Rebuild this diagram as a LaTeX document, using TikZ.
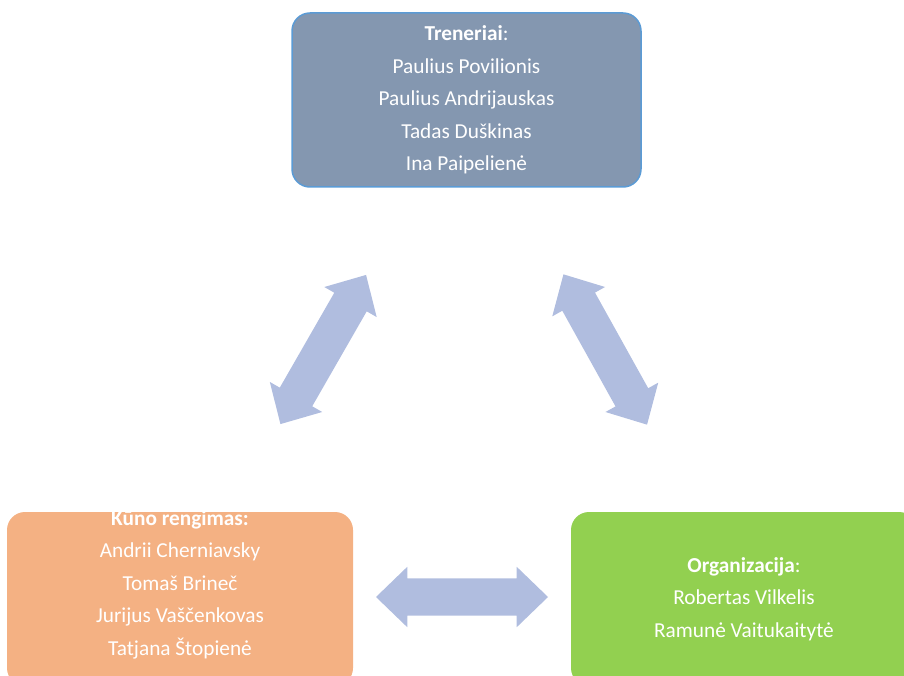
\documentclass[tikz,border=0pt]{standalone}
\usepackage{fontspec}
\setmainfont{Carlito}
\usetikzlibrary{shapes.arrows}
\definecolor{trenerfill}{HTML}{8497B0}
\definecolor{trenerline}{HTML}{5B9BD5}
\definecolor{kunofill}{HTML}{F4B183}
\definecolor{orgfill}{HTML}{92D050}
\definecolor{linkfill}{HTML}{B0BDDF}
\tikzset{
  box/.style={rectangle, rounded corners=18pt, minimum width=346pt, minimum height=174pt,
    text=white, align=center, font=\fontsize{21.3}{32.5}\selectfont},
  names/.style={text=white, align=center, font=\fontsize{21.3}{32.5}\selectfont},
  link/.style={double arrow, fill=linkfill, draw=none, sloped, inner xsep=0pt, inner ysep=18.5pt,
    double arrow head extend=11.5pt, double arrow tip angle=88, minimum height=172pt},
}
\begin{document}
\begin{tikzpicture}[x=1pt,y=-1pt]
\useasboundingbox (0,0) rectangle (904,676);
% three groups
\node[box, fill=trenerfill, draw=trenerline, line width=1.5pt, minimum width=349pt] (trener) at (466.5,100)
  {\textbf{Treneriai}:\\Paulius Povilionis\\Paulius Andrijauskas\\Tadas Duškinas\\Ina Paipelienė};
\node[box, fill=kunofill] (kuno) at (180,599) {};
\node[names] (kunotext) at ([yshift=14.5pt]kuno.center)
  {\textbf{Kūno rengimas:}\\Andrii Cherniavsky\\Tomaš Brineč\\Jurijus Vaščenkovas\\Tatjana Štopienė};
\node[box, fill=orgfill] (org) at (744,599)
  {\textbf{Organizacija}:\\Robertas Vilkelis\\Ramunė Vaitukaitytė};
% links between them
\path (kuno.center) -- node[link] (kunotrener) {} (trener.center);
\path (trener.center) -- node[link] (trenerorg) {} (org.center);
\path (kuno.center) -- node[link, yshift=2pt] (kunoorg) {} (org.center);
\end{tikzpicture}
\end{document}
